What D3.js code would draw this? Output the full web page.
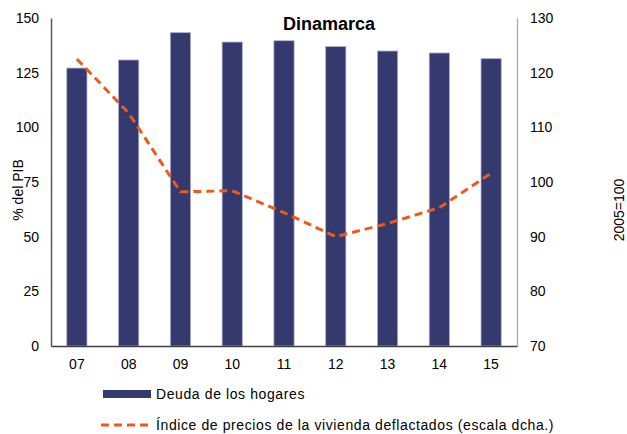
<!DOCTYPE html>
<html lang="es">
<head>
<meta charset="UTF-8">
<title>Dinamarca</title>
<script src="https://d3js.org/d3.v7.min.js"></script>
<style>
    body { margin: 0; background: #fff; }
    text { font-family: "Liberation Sans", Arial, sans-serif; fill: #000; }
    .tick text { font-size: 14px; }
    .title { font-size: 18px; font-weight: bold; text-anchor: middle; }
    .lbl { font-size: 14px; }
    .leg { font-size: 14px; letter-spacing: 0.6px; }
</style>
</head>
<body>
<svg id="chart" width="627" height="434"></svg>
<script>
    const years = ["07", "08", "09", "10", "11", "12", "13", "14", "15"];
    const deuda = [127.1, 130.8, 143.3, 139.0, 139.6, 136.9, 134.9, 134.0, 131.4];
    const vivienda = [122.5, 112.6, 98.2, 98.4, 94.4, 90.0, 92.4, 95.3, 101.6];
    const leftTicks = [0, 25, 50, 75, 100, 125, 150];
    const rightTicks = [70, 80, 90, 100, 110, 120, 130];

    const svg = d3.select("#chart");
    const plotLeft = 51, plotRight = 517, plotTop = 18, plotBottom = 346;

    let x = d3.scaleBand().domain(years).range([plotLeft, plotRight]).paddingInner(0.61).paddingOuter(0.305);
    let yL = d3.scaleLinear().domain([0, 150]).range([plotBottom, plotTop]);
    let yR = d3.scaleLinear().domain([70, 130]).range([plotBottom, plotTop]);

    // bars
    svg.append("g").selectAll("rect")
        .data(deuda)
        .enter()
        .append("rect")
        .attr("x", (d, i) => x(years[i]))
        .attr("y", d => yL(d))
        .attr("width", x.bandwidth())
        .attr("height", d => yL(0) - yL(d))
        .attr("fill", "#343a6e")
        .attr("stroke", "#a9abcf")
        .attr("stroke-width", 0.8);

    // axes
    let axL = svg.append("g").attr("transform", `translate(${plotLeft},0)`)
        .call(d3.axisLeft(yL).tickValues(leftTicks).tickSize(0).tickPadding(12));
    axL.select(".domain").attr("stroke", "#595959").attr("stroke-width", 1.5);

    let axR = svg.append("g").attr("transform", `translate(${plotRight},0)`)
        .call(d3.axisRight(yR).tickValues(rightTicks).tickSize(0).tickPadding(13));
    axR.select(".domain").attr("stroke", "#a6a6a6").attr("stroke-width", 1.2);

    let axB = svg.append("g").attr("transform", `translate(0,${plotBottom})`)
        .call(d3.axisBottom(x).tickSize(0).tickPadding(13));
    axB.select(".domain").attr("stroke", "#404040").attr("stroke-width", 1.5);

    svg.selectAll(".tick text").attr("fill", "#000");

    // line
    let line = d3.line()
        .x((d, i) => x(years[i]) + x.bandwidth() / 2)
        .y(d => yR(d));
    svg.append("path")
        .datum(vivienda)
        .attr("d", line)
        .attr("fill", "none")
        .attr("stroke", "#ec5a1c")
        .attr("stroke-width", 3)
        .attr("stroke-dasharray", "8,5");

    // labels
    svg.append("text").attr("class", "title").attr("x", 329).attr("y", 30).text("Dinamarca");
    svg.append("text").attr("class", "lbl")
        .attr("transform", "translate(23,190) rotate(-90)")
        .attr("text-anchor", "middle").text("% del PIB");
    svg.append("text").attr("class", "lbl")
        .attr("font-size", "13px")
        .attr("transform", "translate(624,210) rotate(-90)")
        .attr("text-anchor", "middle").text("2005=100");

    // legend
    svg.append("rect").attr("x", 103).attr("y", 390).attr("width", 48).attr("height", 8).attr("fill", "#343a6e");
    svg.append("text").attr("class", "leg").attr("x", 156).attr("y", 399).text("Deuda de los hogares");
    svg.append("line").attr("x1", 101).attr("x2", 151).attr("y1", 425).attr("y2", 425)
        .attr("stroke", "#ec5a1c").attr("stroke-width", 3).attr("stroke-dasharray", "8,5");
    svg.append("text").attr("class", "leg").attr("x", 156).attr("y", 430)
        .text("Índice de precios de la vivienda deflactados (escala dcha.)");
</script>
</body>
</html>
